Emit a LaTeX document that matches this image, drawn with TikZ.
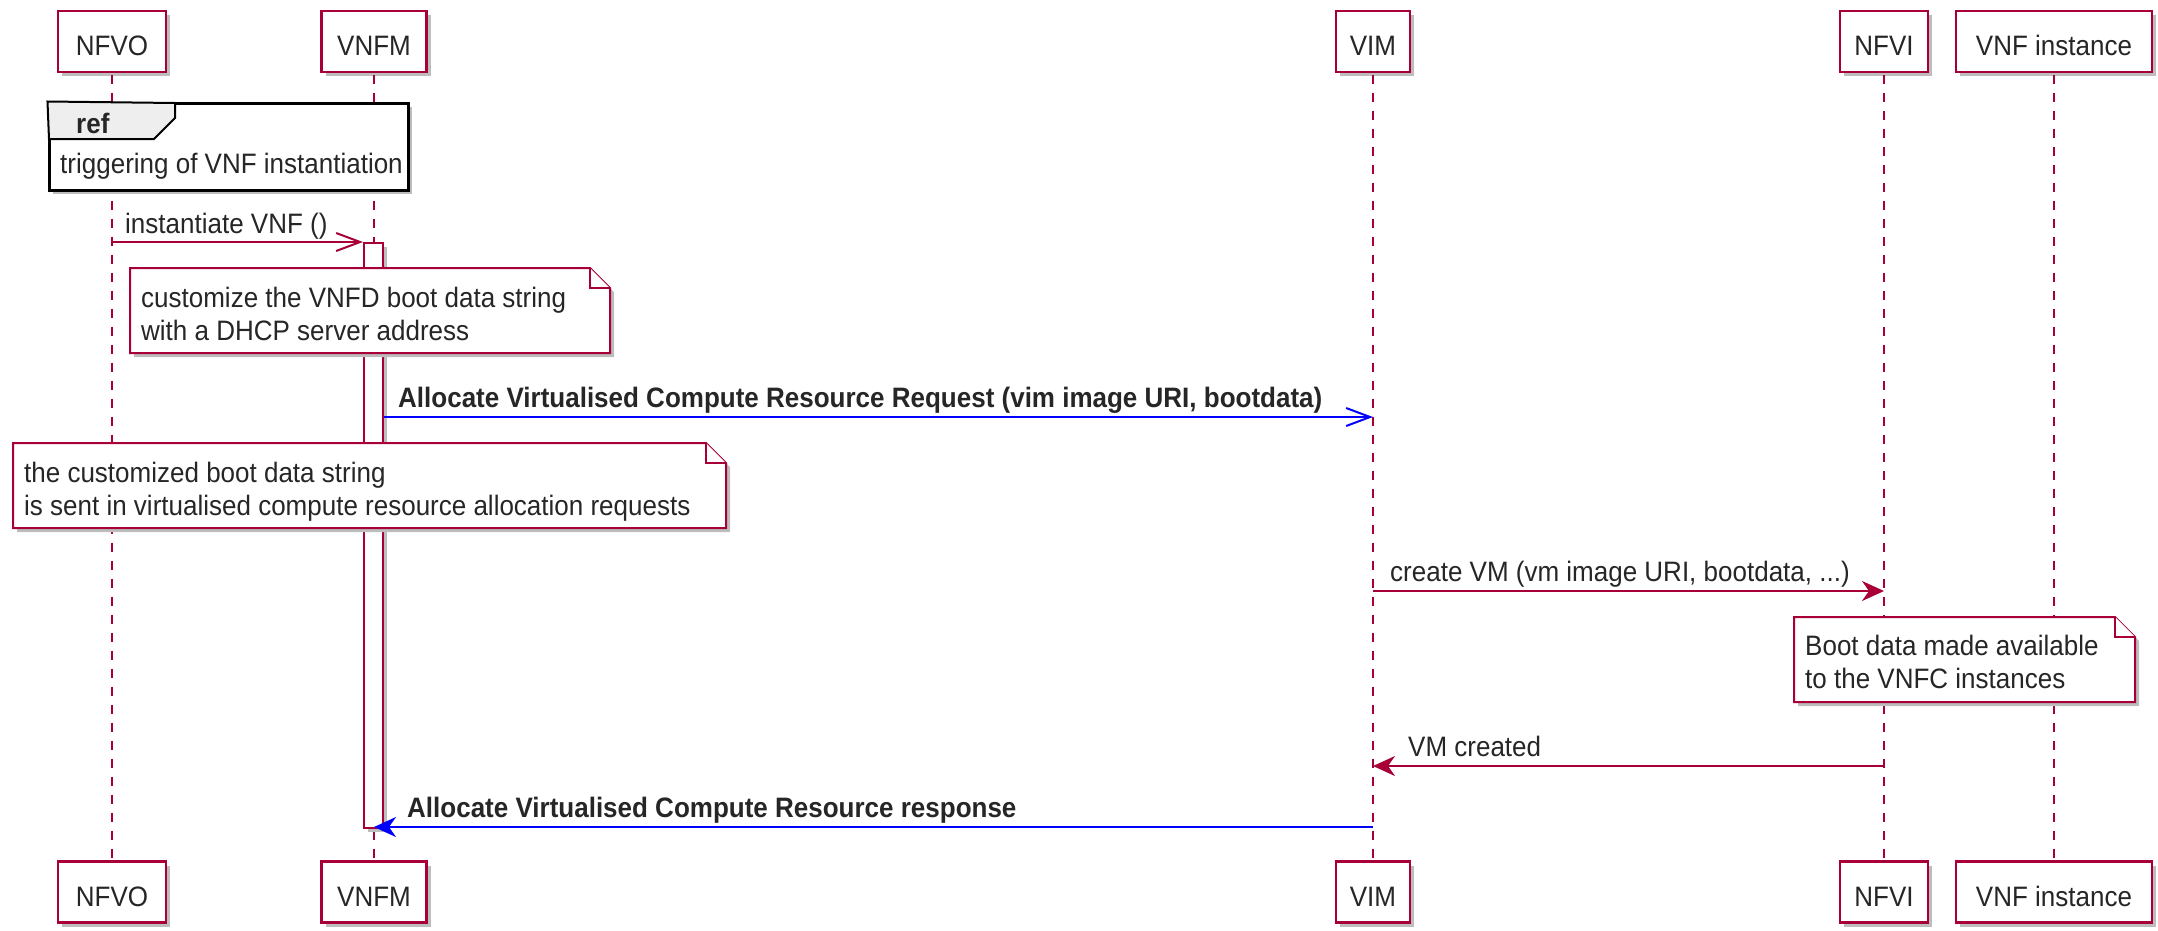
\documentclass[tikz,border=0pt]{standalone}
\usepackage{fontspec}
\setmainfont{Liberation Sans}
\usetikzlibrary{arrows.meta,shadows}
\definecolor{pumlred}{HTML}{A80036}
\definecolor{pumlblue}{HTML}{0000FF}
\definecolor{tabgray}{HTML}{EEEEEE}
\definecolor{shadowgray}{HTML}{BDBDBD}
\newcommand\tx[1]{\scalebox{1}[1.08]{#1}}
\newcommand\pumlnote[5]{% name, x1, y1, x2, y2
  \fill[shadowgray,shift={(4,4)}] (#2,#3) -- ({#4-20},#3) -- (#4,{#3+20}) -- (#4,#5) -- (#2,#5) -- cycle;
  \draw[notebox] (#2,#3) -- ({#4-20},#3) -- (#4,{#3+20}) -- (#4,#5) -- (#2,#5) -- cycle;
  \draw[notebox] ({#4-20},#3) -- ({#4-20},{#3+20}) -- (#4,{#3+20});
  \coordinate (#1) at (#2,#3);
}
\begin{document}
\begin{tikzpicture}[x=1pt,y=-1pt,
  every node/.style={font=\fontsize{26}{31}\selectfont, inner sep=0pt, text=black!85},
  shad/.style={drop shadow={shadow xshift=4pt,shadow yshift=-4pt,fill=shadowgray,opacity=1}},
  part/.style={draw=pumlred, line width=2.5pt, fill=white, minimum height=61pt, shad, text height=28pt, text depth=0pt},
  life/.style={draw=pumlred, line width=1.6pt, dash pattern=on 9pt off 9pt},
  notebox/.style={draw=pumlred, line width=2pt, fill=white, line join=miter},
  msgred/.style={draw=pumlred, line width=2pt},
  msgblue/.style={draw=pumlblue, line width=2pt},
  openhead/.style={-{Straight Barb[length=24pt,width=18pt]}},
  fillhead/.style={-{Stealth[length=22pt,width=20pt,inset=7pt]}},
  lbl/.style={anchor=base west},
  blbl/.style={anchor=base west, font=\fontsize{26}{31}\selectfont\bfseries}
]
\useasboundingbox (0,0) rectangle (2158,930);

% participants
\node[part, minimum width=108pt] (nfvoT) at (112,41.5) {\tx{NFVO}};
\node[part, minimum width=105pt] (vnfmT) at (374,41.5) {\tx{VNFM}};
\node[part, minimum width=74pt]  (vimT)  at (1373,41.5) {\tx{VIM}};
\node[part, minimum width=88pt]  (nfviT) at (1884,41.5) {\tx{NFVI}};
\node[part, minimum width=196pt] (vnfiT) at (2054,41.5) {\tx{VNF instance}};

\node[part, minimum width=108pt] (nfvoB) at (112,892) {\tx{NFVO}};
\node[part, minimum width=105pt] (vnfmB) at (374,892) {\tx{VNFM}};
\node[part, minimum width=74pt]  (vimB)  at (1373,892) {\tx{VIM}};
\node[part, minimum width=88pt]  (nfviB) at (1884,892) {\tx{NFVI}};
\node[part, minimum width=196pt] (vnfiB) at (2054,892) {\tx{VNF instance}};

% lifelines
\draw[life] ([yshift=-1.25pt]nfvoT.south) -- (nfvoB.north);
\draw[life] ([yshift=-1.25pt]vnfmT.south) -- (vnfmB.north);
\draw[life] ([yshift=-1.25pt]vimT.south) -- (vimB.north);
\draw[life] ([yshift=-1.25pt]nfviT.south) -- (nfviB.north);
\draw[life] ([yshift=-1.25pt]vnfiT.south) -- (vnfiB.north);

% ref frame
\node[draw=black, line width=3pt, fill=white, shad, minimum width=359pt, minimum height=87pt] (ref) at (228.5,146.5) {};
\filldraw[fill=tabgray, draw=black, line width=2pt] (ref.north west) -- (175,103) -- (175,118) -- (154,139) -- (49,139) -- cycle;
\node[anchor=base west, font=\fontsize{26}{31}\selectfont\bfseries] (reflbl) at (76,133) {\tx{ref}};
\node[anchor=base] (reftxt) at (231.5,173) {\tx{triggering of VNF instantiation}};

% activation bar
\node[draw=pumlred, line width=2pt, fill=white, shad, minimum width=19pt, minimum height=585pt] (act) at (373.5,535.5) {};

% notes
\pumlnote{n1}{130}{268}{610}{353}
\node[lbl] (n1a) at (141,307) {\tx{customize the VNFD boot data string}};
\node[lbl] (n1b) at (141,340) {\tx{with a DHCP server address}};

\pumlnote{n2}{13}{443}{726}{528}
\node[lbl] (n2a) at (24,482) {\tx{the customized boot data string}};
\node[lbl] (n2b) at (24,515) {\tx{is sent in virtualised compute resource allocation requests}};

\pumlnote{n3}{1794}{617}{2135}{702}
\node[lbl] (n3a) at (1805,655) {\tx{Boot data made available}};
\node[lbl] (n3b) at (1805,688) {\tx{to the VNFC instances}};

% message rows
\coordinate (m2) at (0,417);
\coordinate (m3) at (0,591);
\coordinate (m4) at (0,766);
\coordinate (m5) at (0,827);

% messages
\draw[msgred, openhead] (nfvoT |- act.north west) -- (act.north west);
\node[lbl] (l1) at (125,233) {\tx{instantiate VNF ()}};

\draw[msgblue, openhead] (act.east |- m2) -- (vimT |- m2);
\node[blbl] (l2) at (398,407) {\tx{Allocate Virtualised Compute Resource Request (vim image URI, bootdata)}};

\draw[msgred, fillhead] (vimT |- m3) -- (nfviT |- m3);
\node[lbl] (l3) at (1390,581) {\tx{create VM (vm image URI, bootdata, ...)}};

\draw[msgred, fillhead] (nfviT |- m4) -- (vimT |- m4);
\node[lbl] (l4) at (1408,756) {\tx{VM created}};

\draw[msgblue, fillhead] (vimT |- m5) -- (vnfmT |- m5);
\node[blbl] (l5) at (407,817) {\tx{Allocate Virtualised Compute Resource response}};
\end{tikzpicture}
\end{document}
